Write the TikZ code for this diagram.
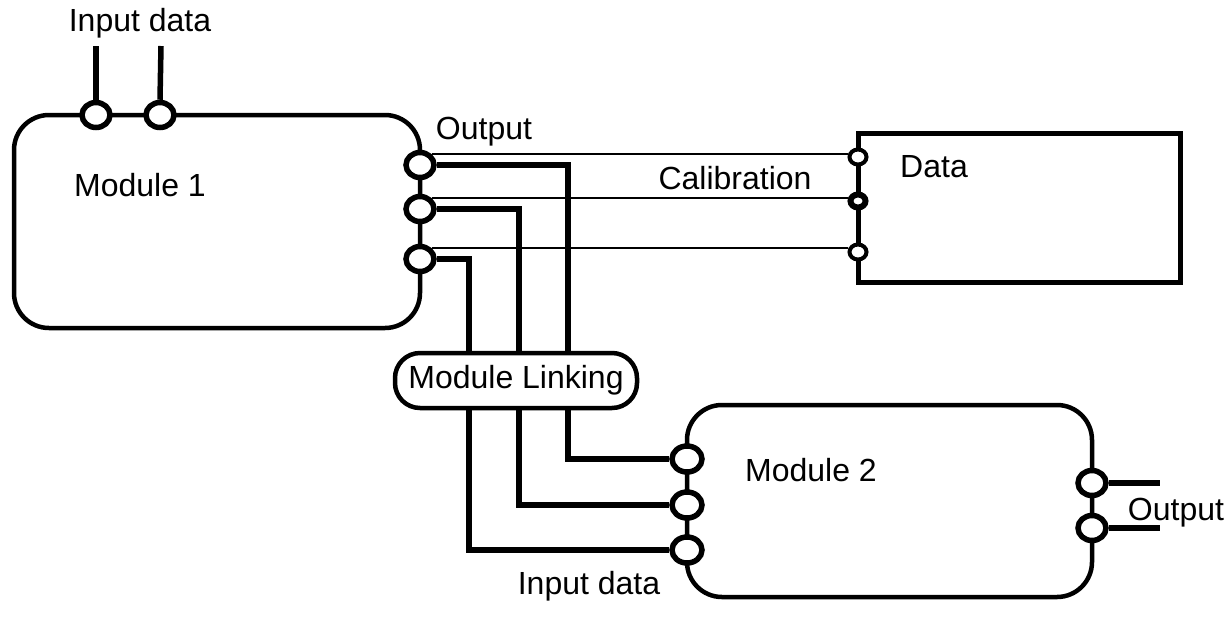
\documentclass[tikz,border=0pt]{standalone}
\usepackage{fontspec}
\setmainfont{Liberation Sans}
\usetikzlibrary{shapes.geometric}
\pgfdeclarelayer{bg}
\pgfsetlayers{bg,main}
\begin{document}
\begin{tikzpicture}[x=1pt,y=-1pt,
  every node/.style={font=\fontsize{32}{36}\selectfont},
  modbox/.style={draw, line width=4.5, rounded corners=35, inner sep=0},
  databox/.style={draw, line width=5, inner sep=0},
  portnode/.style={draw, line width=5.5, fill=white, ellipse, minimum width=28, minimum height=25, inner sep=0},
  dport/.style={draw, line width=4, fill=white, ellipse, minimum width=17, minimum height=15, inner sep=0},
  thickline/.style={line width=5.5},
  thinline/.style={line width=2},
  linkbox/.style={draw, line width=4.5, fill=white, rounded corners=25, minimum width=242, minimum height=55, inner sep=0},
  lbl/.style={inner sep=0, anchor=center}]
\useasboundingbox (0,0) rectangle (1228,622);
% modules
\begin{pgfonlayer}{bg}
\node[modbox, minimum width=406, minimum height=213] (m1) at (217,221.5) {};
\node[modbox, minimum width=405, minimum height=192] (m2) at (889.5,501) {};
\node[databox, minimum width=322, minimum height=149] (data) at (1019,207.5) {};
\end{pgfonlayer}
% ports
\node[portnode] (m1t1) at (96,115) {};
\node[portnode] (m1t2) at (160,115) {};
\node[portnode] (m1r1) at (420,165) {};
\node[portnode] (m1r2) at (420,209) {};
\node[portnode] (m1r3) at (420,259) {};
\node[dport] (d1) at (858,157) {};
\node[dport, line width=6, minimum width=15, minimum height=13] (d2) at (858,201) {};
\node[dport] (d3) at (858,252) {};
\node[portnode, minimum width=30, minimum height=26] (m2l1) at (687,459) {};
\node[portnode, minimum width=30, minimum height=26] (m2l2) at (687,505) {};
\node[portnode, minimum width=30, minimum height=26] (m2l3) at (687,550) {};
\node[portnode] (m2r1) at (1092,483) {};
\node[portnode] (m2r2) at (1092,528) {};
% free ends and bends
\coordinate (in1) at (96,46);
\coordinate (in2) at (161,46);
\coordinate (k1) at (568,380);
\coordinate (k2) at (519,380);
\coordinate (k3) at (469,380);
\coordinate (o1) at (1160,483);
\coordinate (o2) at (1160,528);
% module linking
\node[linkbox] (link) at (516,380.5) {};
\node[lbl] at (link) {Module Linking};
% connectors
\begin{pgfonlayer}{bg}
\draw[thickline] (in1) -- (m1t1.north);
\draw[thickline] (in2) -- (m1t2.north);
\draw[thinline] (m1r1.north east) -- (m1r1.north east -| d1.west);
\draw[thinline] (m1r2.north east) -- (m1r2.north east -| d2.west);
\draw[thinline] (m1r3.north east) -- (m1r3.north east -| d3.west);
\draw[thickline] (m1r1.east) -| (k1) |- (m2l1.west);
\draw[thickline] (m1r2.east) -| (k2) |- (m2l2.west);
\draw[thickline] (m1r3.east) -| (k3) |- (m2l3.west);
\draw[thickline] (m2r1.east) -- (o1);
\draw[thickline] (m2r2.east) -- (o2);
\end{pgfonlayer}
% labels
\node[lbl] (t1) at (140,23) {Input data};
\node[lbl] (t2) at (484,132) {Output};
\node[lbl] (t3) at (140,185) {Module 1};
\node[lbl] (t4) at (735,178) {Calibration};
\node[lbl] (t5) at (934,167) {Data};
\node[lbl] (t6) at (811,470) {Module 2};
\node[lbl] (t7) at (1176,513) {Output};
\node[lbl] (t8) at (589,586) {Input data};
\end{tikzpicture}
\end{document}
